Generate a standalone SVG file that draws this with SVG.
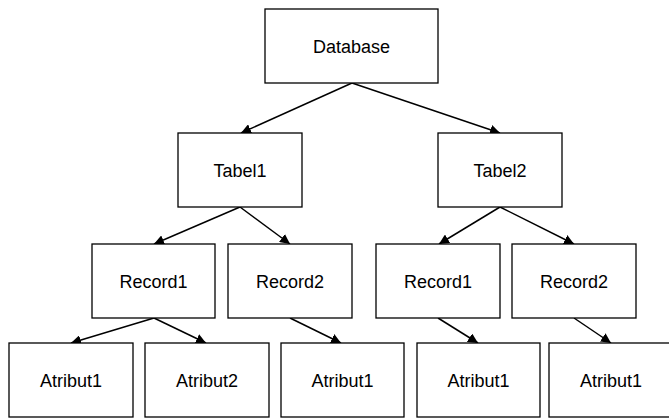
<svg xmlns="http://www.w3.org/2000/svg" width="669" height="419" viewBox="0 0 669 419">
<defs>
<marker id="ah" viewBox="0 0 10 10" refX="10" refY="5" markerWidth="10" markerHeight="10" markerUnits="userSpaceOnUse" orient="auto">
<path d="M0,0 L10,5 L0,10 Z" fill="#000"/>
</marker>
<style>
.box{fill:#fff;stroke:#000;stroke-width:1.3}
.lbl{font-family:"Liberation Sans",Arial,sans-serif;font-size:18px;fill:#000;text-anchor:middle}
.c{stroke:#000;stroke-width:1.5;fill:none;marker-end:url(#ah)}
</style>
</defs>
<rect width="669" height="419" fill="#fff"/>
<g id="connectors">
<line class="c" x1="352" y1="83" x2="241" y2="133"/>
<line class="c" x1="352" y1="83" x2="500" y2="133"/>
<line class="c" x1="240" y1="207" x2="154" y2="244"/>
<line class="c" x1="240" y1="207" x2="290" y2="244"/>
<line class="c" x1="500" y1="207" x2="439" y2="244"/>
<line class="c" x1="500" y1="207" x2="574" y2="244"/>
<line class="c" x1="154" y1="318" x2="71" y2="343"/>
<line class="c" x1="154" y1="318" x2="206" y2="343"/>
<line class="c" x1="290" y1="318" x2="341" y2="343"/>
<line class="c" x1="438" y1="318" x2="478" y2="343"/>
<line class="c" x1="574" y1="318" x2="611" y2="343"/>
</g>
<g id="database"><rect class="box" x="265" y="9" width="173" height="74"/><text class="lbl" x="351.5" y="52.5">Database</text></g>
<g id="tabel1"><rect class="box" x="178" y="133" width="124" height="74"/><text class="lbl" x="240" y="176.5">Tabel1</text></g>
<g id="tabel2"><rect class="box" x="438" y="133" width="124" height="74"/><text class="lbl" x="500" y="176.5">Tabel2</text></g>
<g id="t1record1"><rect class="box" x="92" y="244" width="123" height="74"/><text class="lbl" x="153.5" y="287.5">Record1</text></g>
<g id="t1record2"><rect class="box" x="228" y="244" width="124" height="74"/><text class="lbl" x="290" y="287.5">Record2</text></g>
<g id="t2record1"><rect class="box" x="376" y="244" width="124" height="74"/><text class="lbl" x="438" y="287.5">Record1</text></g>
<g id="t2record2"><rect class="box" x="512" y="244" width="124" height="74"/><text class="lbl" x="574" y="287.5">Record2</text></g>
<g id="a1"><rect class="box" x="9" y="343" width="124" height="74"/><text class="lbl" x="71" y="386.5">Atribut1</text></g>
<g id="a2"><rect class="box" x="145" y="343" width="124" height="74"/><text class="lbl" x="207" y="386.5">Atribut2</text></g>
<g id="a3"><rect class="box" x="281" y="343" width="123" height="74"/><text class="lbl" x="342.5" y="386.5">Atribut1</text></g>
<g id="a4"><rect class="box" x="417" y="343" width="123" height="74"/><text class="lbl" x="478.5" y="386.5">Atribut1</text></g>
<g id="a5"><rect class="box" x="549" y="343" width="124" height="74"/><text class="lbl" x="611" y="386.5">Atribut1</text></g>
</svg>
